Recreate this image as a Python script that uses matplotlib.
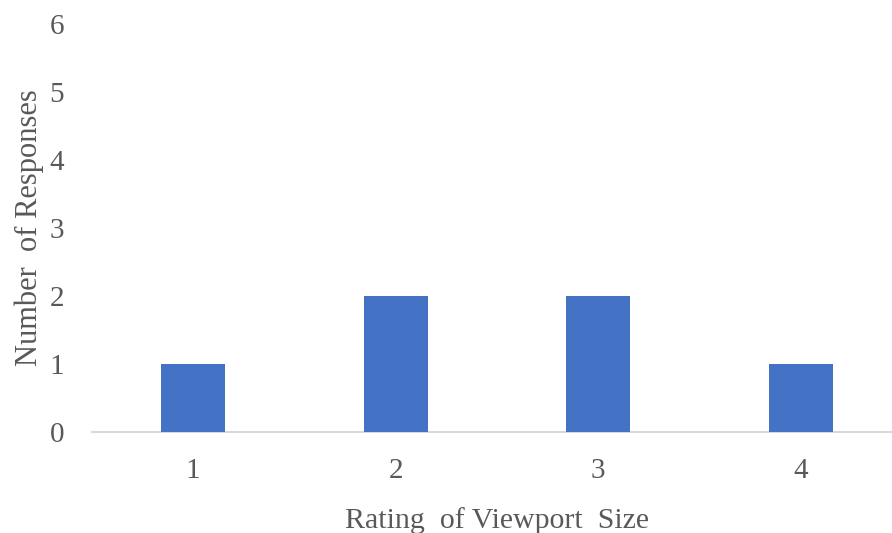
import matplotlib
matplotlib.use('Agg')
import matplotlib.pyplot as plt

# dados
ratings = ['1', '2', '3', '4']
responses = [1, 2, 2, 1]
y_ticks = [0, 1, 2, 3, 4, 5, 6]

plt.rcParams['font.family'] = ['Liberation Serif', 'DejaVu Serif']

fig = plt.figure(figsize=(8.92, 5.33), dpi=100)
ax = fig.add_axes([92 / 892, 1 - 432 / 533, 810 / 892, 408 / 533])

ax.bar(range(len(ratings)), responses, width=0.315, color='#4472C4', zorder=3)

ax.set_xlim(-0.5, len(ratings) - 0.5)
ax.set_ylim(0, 6)
ax.set_xticks(range(len(ratings)))
ax.set_xticklabels(ratings)
ax.set_yticks(y_ticks)

for s in ['top', 'right', 'left']:
    ax.spines[s].set_visible(False)
ax.spines['bottom'].set_color('#D9D9D9')
ax.spines['bottom'].set_linewidth(1.5)

ax.tick_params(axis='both', length=0, labelsize=21, colors='#595959')
ax.tick_params(axis='x', pad=19)
ax.tick_params(axis='y', pad=20)

ax.set_xlabel('Rating  of Viewport  Size', fontsize=21.5, color='#595959', labelpad=16)
ax.set_ylabel('Number  of Responses', fontsize=22, color='#595959', labelpad=4)

fig.savefig('out.png', dpi=100)
